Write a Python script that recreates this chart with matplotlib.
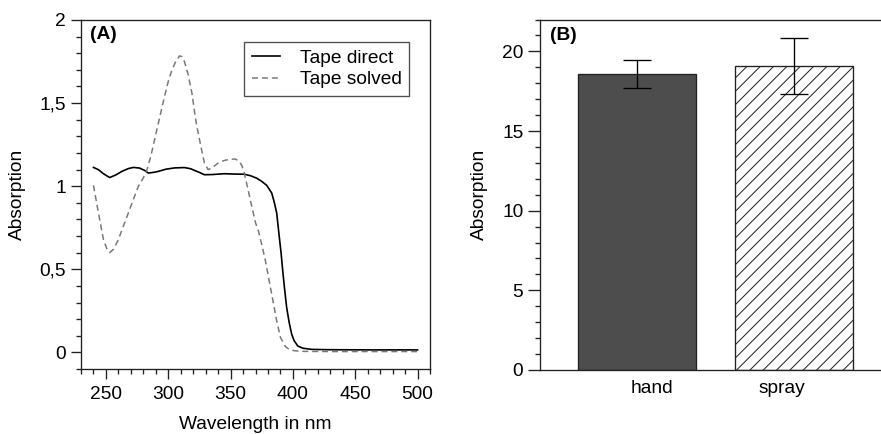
import matplotlib
matplotlib.use("Agg")
import matplotlib.pyplot as plt
from matplotlib.ticker import MultipleLocator, FixedLocator, FixedFormatter
import matplotlib.transforms as mtransforms

plt.rcParams['font.family'] = ['Liberation Sans', 'DejaVu Sans']
plt.rcParams['hatch.linewidth'] = 0.6

# ---------------- data ----------------
wl_direct = [240, 244, 248, 253, 258, 263, 268, 272, 277, 281, 284, 288, 292, 298,
             305, 313, 318, 321, 325, 329, 335, 345, 353, 361, 366, 371, 375, 379,
             383, 385, 387, 389, 390.5, 392, 393.5, 395, 397, 399, 401, 404, 408,
             415, 430, 460, 500]
abs_direct = [1.113, 1.099, 1.075, 1.052, 1.068, 1.090, 1.106, 1.113, 1.109, 1.095,
              1.079, 1.083, 1.089, 1.102, 1.110, 1.112, 1.105, 1.095, 1.083, 1.069,
              1.070, 1.075, 1.073, 1.072, 1.063, 1.048, 1.029, 1.005, 0.959, 0.905,
              0.839, 0.700, 0.600, 0.479, 0.370, 0.270, 0.180, 0.110, 0.070, 0.038,
              0.025, 0.018, 0.016, 0.015, 0.015]

wl_solved = [240, 244, 248, 251, 253, 256, 260, 264, 268, 272, 276, 280, 283, 286,
             289, 293, 297, 300, 303, 306, 309, 311, 313, 316, 319, 322, 324, 327,
             329, 332, 335, 340, 345, 350, 354, 357, 359, 361, 364, 367, 370, 372,
             375, 378, 381, 384, 387, 390, 394, 397, 401, 409, 430, 500]
abs_solved = [1.005, 0.839, 0.679, 0.618, 0.600, 0.620, 0.679, 0.760, 0.839, 0.920,
              0.999, 1.050, 1.100, 1.180, 1.279, 1.410, 1.540, 1.630, 1.700, 1.750,
              1.784, 1.780, 1.750, 1.670, 1.560, 1.400, 1.320, 1.210, 1.140, 1.100,
              1.110, 1.139, 1.155, 1.163, 1.163, 1.149, 1.125, 1.079, 0.980, 0.879,
              0.780, 0.740, 0.650, 0.550, 0.430, 0.310, 0.190, 0.090, 0.035, 0.018,
              0.010, 0.006, 0.005, 0.005]

series_labels = ["Tape direct", "Tape solved"]
ytick_vals_A = [0, 0.5, 1, 1.5, 2]
ytick_labels_A = ["0", "0,5", "1", "1,5", "2"]

categories = ["hand", "spray"]
bar_values = [18.6, 19.1]
bar_errors = [0.87, 1.77]

# ---------------- figure ----------------
DPI = 120
fig = plt.figure(figsize=(881 / DPI, 434 / DPI), dpi=DPI)
W, H = 881, 434

def axes_px(left, top, right, bottom):
    return [left / W, (H - bottom) / H, (right - left) / W, (bottom - top) / H]

FS = 11.5
spine_c = '#222222'

# ---------- Panel A ----------
axA = fig.add_axes(axes_px(81, 20, 430, 369))
axA.plot(wl_direct, abs_direct, color='black', lw=1.0, label=series_labels[0])
axA.plot(wl_solved, abs_solved, color='#777777', lw=0.9, dashes=(4.0, 2.6),
         label=series_labels[1])
axA.set_xlim(230, 510)
axA.set_ylim(-0.1, 2)
axA.xaxis.set_major_locator(MultipleLocator(50))
axA.xaxis.set_minor_locator(MultipleLocator(10))
axA.yaxis.set_major_locator(FixedLocator(ytick_vals_A))
axA.yaxis.set_major_formatter(FixedFormatter(ytick_labels_A))
axA.yaxis.set_minor_locator(MultipleLocator(0.1))
axA.set_xticks([250, 300, 350, 400, 450, 500])
axA.tick_params(axis='both', which='major', direction='out', length=6, width=0.8,
                labelsize=FS, color=spine_c)
axA.tick_params(axis='both', which='minor', direction='out', length=3, width=0.8,
                color=spine_c)
axA.tick_params(axis='x', which='major', pad=4)
axA.tick_params(axis='y', which='major', pad=3)
for s in axA.spines.values():
    s.set_linewidth(0.8)
    s.set_color(spine_c)
axA.set_xlabel("Wavelength in nm", fontsize=FS)
axA.set_ylabel("Absorption", fontsize=FS)
axA.yaxis.set_label_coords(-0.159, 0.5)
axA.xaxis.set_label_coords(0.5, -0.134)
axA.text(0.026, 0.982, "(A)", transform=axA.transAxes, fontsize=FS,
         fontweight='bold', ha='left', va='top')
leg = axA.legend(loc='upper right', bbox_to_anchor=(0.94, 0.937), borderaxespad=0,
                 fontsize=FS, frameon=True, fancybox=False, handlelength=1.5,
                 handletextpad=1.0, labelspacing=0.2, borderpad=0.4)
leg.get_frame().set_edgecolor(spine_c)
leg.get_frame().set_linewidth(0.8)

# ---------- Panel B ----------
x_pos = list(range(len(categories)))
x_left, x_right = -0.618, 1.9
unit_px = 157
right_px = 540 + (x_right - x_left) * unit_px
axB = fig.add_axes(axes_px(540, 19.5, right_px, 370))
bars = axB.bar(x_pos, bar_values, width=0.755, yerr=bar_errors,
               color=['#4d4d4d', 'white'], edgecolor=spine_c, linewidth=0.8,
               error_kw=dict(ecolor='black', elinewidth=0.8, capsize=8.2, capthick=0.8))
bars[1].set_hatch('///')
axB.set_xlim(x_left, x_right)
axB.set_ylim(0, 22)
axB.yaxis.set_major_locator(MultipleLocator(5))
axB.yaxis.set_minor_locator(MultipleLocator(1))
axB.set_xticks(x_pos)
axB.set_xticklabels(categories, fontsize=FS)
axB.tick_params(axis='x', which='both', length=0, pad=6)
axB.tick_params(axis='y', which='major', direction='out', length=7, width=0.8,
                labelsize=FS, pad=3, color=spine_c)
axB.tick_params(axis='y', which='minor', direction='out', length=3, width=0.8,
                color=spine_c)
for s in axB.spines.values():
    s.set_linewidth(0.8)
    s.set_color(spine_c)
axB.set_ylabel("Absorption", fontsize=FS)
axB.yaxis.set_label_coords(-0.1315, 0.5)
axB.text(0.025, 0.979, "(B)", transform=axB.transAxes, fontsize=FS,
         fontweight='bold', ha='left', va='top')
# label offsets as in the reference
offsets_px = [15, -12]
for lab, dx in zip(axB.get_xticklabels(), offsets_px):
    lab.set_transform(lab.get_transform() +
                      mtransforms.ScaledTranslation(dx / DPI, 0, fig.dpi_scale_trans))

fig.savefig("out.png", dpi=DPI)
